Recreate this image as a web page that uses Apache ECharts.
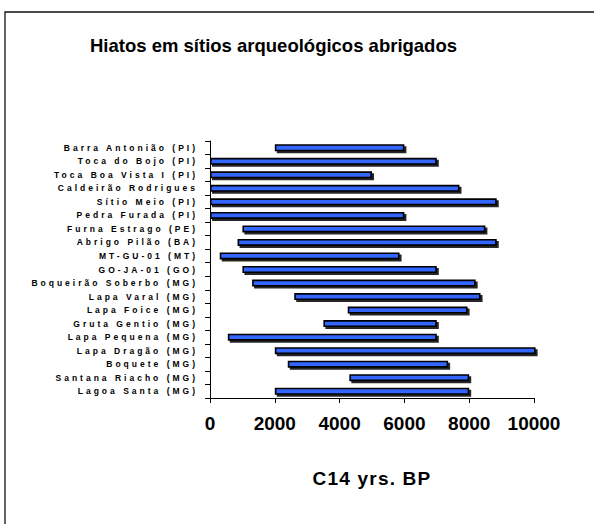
<!DOCTYPE html>
<html>
<head>
<meta charset="utf-8">
<script src="https://cdn.jsdelivr.net/npm/echarts@6/dist/echarts.min.js"></script>
<style>
  html, body { margin: 0; padding: 0; background: #fff; }
  #chart { width: 594px; height: 524px; }
  #chart text[style*="Liberation"], #chart text[font-family*="Liberation"] { letter-spacing: 3px; }
  #chart text[style*="Helvetica"], #chart text[font-family*="Helvetica"] { letter-spacing: 1.2px; }
</style>
</head>
<body>
<div id="chart"></div>
<script>
// Sites (top to bottom as shown)
var sites = [
  'Barra Antonião (PI)', 'Toca do Bojo (PI)', 'Toca Boa Vista I (PI)', 'Caldeirão Rodrigues',
  'Sítio Meio (PI)', 'Pedra Furada (PI)', 'Furna Estrago (PE)', 'Abrigo Pilão (BA)',
  'MT-GU-01 (MT)', 'GO-JA-01 (GO)', 'Boqueirão Soberbo (MG)', 'Lapa Varal (MG)',
  'Lapa Foice (MG)', 'Gruta Gentio (MG)', 'Lapa Pequena (MG)', 'Lapa Dragão (MG)',
  'Boquete (MG)', 'Santana Riacho (MG)', 'Lagoa Santa (MG)'
];
// Hiatus start (younger bound) and end (older bound), C14 yrs BP
var hiatusStart = [2000, 0, 0, 0, 0, 0, 1000, 850, 300, 1000, 1300, 2600, 4250, 3500, 550, 2000, 2400, 4300, 2000];
var hiatusEnd   = [6000, 7000, 5000, 7700, 8850, 6000, 8500, 8850, 5850, 7000, 8200, 8350, 7950, 7000, 7000, 10050, 7350, 8000, 8000];
var xTicks = [0, 2000, 4000, 6000, 8000, 10000];

var spans = hiatusEnd.map(function (e, i) { return e - hiatusStart[i]; });

var chart = echarts.init(document.getElementById('chart'), null, { renderer: 'svg' });
chart.setOption({
  animation: false,
  backgroundColor: '#fff',
  title: {
    text: 'Hiatos em sítios arqueológicos abrigados',
    left: 85, top: 31,
    textStyle: { fontFamily: 'Arial', fontWeight: 'bold', fontSize: 18.5, color: '#000' }
  },
  graphic: [{
    type: 'rect', z: -1,
    shape: { x: 5, y: 12, width: 620, height: 540 },
    style: { fill: 'none', stroke: '#111', lineWidth: 1.3 }
  }],
  grid: { left: 210, right: 60, top: 141, bottom: 126, containLabel: false },
  xAxis: {
    type: 'value', min: xTicks[0], max: xTicks[xTicks.length - 1], interval: 2000,
    splitLine: { show: false },
    axisLine: { show: true, lineStyle: { color: '#000', width: 1 } },
    axisTick: { show: true, length: 5, lineStyle: { color: '#000' } },
    axisLabel: {
      margin: 16, fontFamily: 'Arial', fontWeight: 'bold', fontSize: 19, color: '#000',
      formatter: function (v) { return String(v); }
    },
    name: 'C14 yrs. BP', nameLocation: 'middle', nameGap: 71,
    nameTextStyle: { fontFamily: 'Helvetica', fontWeight: 'bold', fontSize: 19, color: '#000', padding: 0 }
  },
  yAxis: {
    type: 'category', data: sites, inverse: true,
    axisLine: { show: true, lineStyle: { color: '#000', width: 1 } },
    axisTick: { show: true, length: 5, lineStyle: { color: '#000' } },
    axisLabel: { interval: 0, margin: 12, fontFamily: 'Liberation Sans', fontWeight: 'bold', fontSize: 8.5, color: '#000' }
  },
  series: [{
    type: 'bar', stack: 'h', data: hiatusStart, barWidth: 7,
    itemStyle: { color: 'transparent' }, silent: true
  }, {
    type: 'bar', stack: 'h', data: spans, barWidth: 7, clip: false,
    itemStyle: {
      color: '#3366ff', borderColor: '#000', borderWidth: 1.6,
      shadowColor: 'rgba(0,0,0,0.85)', shadowOffsetX: 2, shadowOffsetY: 2, shadowBlur: 0
    }
  }]
});
</script>
</body>
</html>
